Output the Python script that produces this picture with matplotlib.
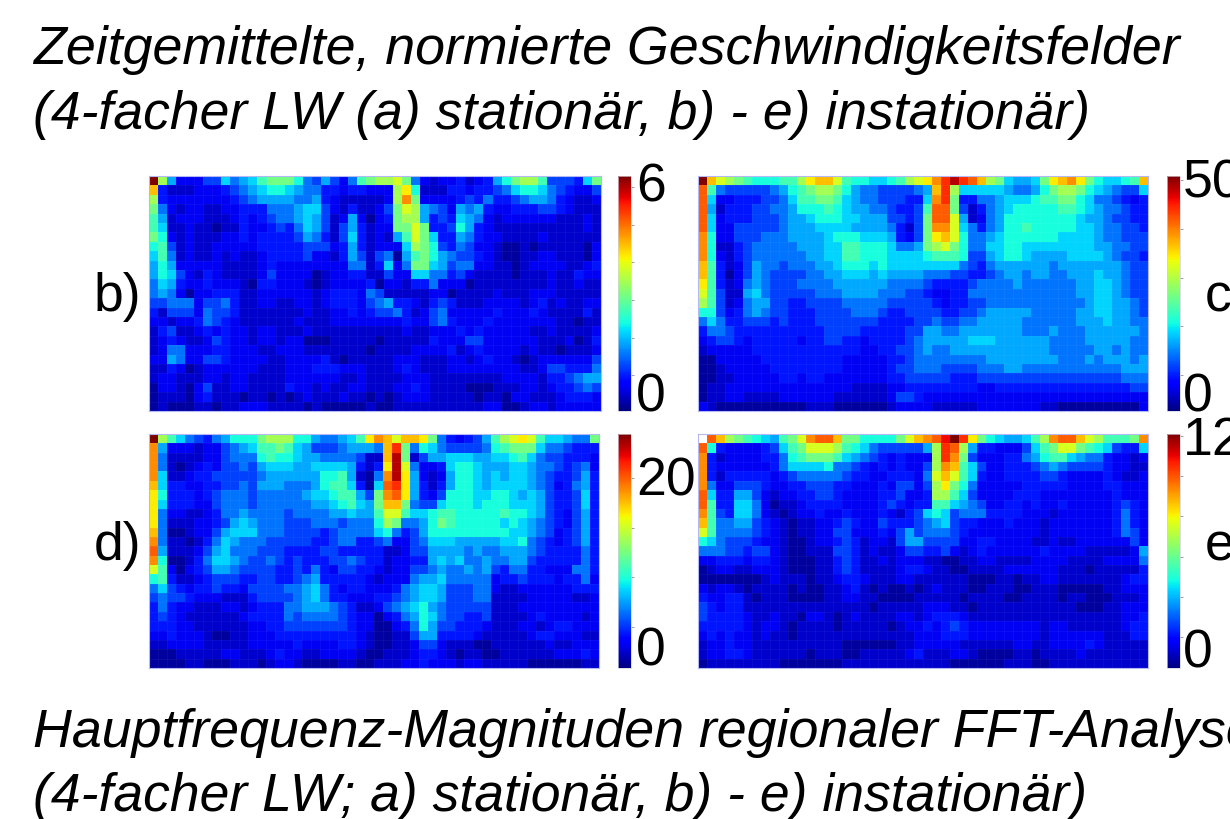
import numpy as np
import matplotlib
matplotlib.use("Agg")
import matplotlib.pyplot as plt

W, H = 1230, 819
plt.rcParams['font.family'] = ['Liberation Sans', 'DejaVu Sans']

# Each character is a colour step; '-' = empty cell
LEVELS = "0123456789abcdefghijk"
LEVEL_FRACTIONS = [.03, .07, .105, .145, .19, .24, .29, .335, .38, .43, .49,
                   .55, .61, .66, .71, .76, .81, .86, .90, .95, 1.0]

b_rows = [
"kb62224475 679aaa8546 4259abbca5 2122312368 abb944437a",
"e311122234 5678876553 3233222bd8 1113323345 7887543224",
"b322222223 4566665563 2111112bfa 2222343533 4566532112",
"a521221122 3335556774 2131124acb 6542656322 3334432111",
"9612221112 3234556764 1262023abb 6343765212 2222211121",
"9711211011 3223435764 1463122aac a334863211 1111111121",
"a821211122 3233334653 147312169c a733653221 1112111111",
"8941211222 2233333444 236312227b a843542210 0101111102",
"7951211212 1123333422 1364145069 a865443210 0112211102",
"6862222211 1123222222 225513725a a764552211 0122221123",
"6874213211 1124222201 2233114227 7553421111 0111211322",
"5763223222 1033222101 2222302213 3522201111 1111211211",
"5652022333 1122222212 3332541111 1220111121 1122211111",
"4455524453 1122112212 3332456332 1343111222 2123121122",
"3144425443 1111111211 2232344531 2452222232 2232111131",
"2212235432 1111112111 2222222232 2453222322 2222211011",
"1341123232 2122111211 1111111121 1222323222 2211211112",
"1232112432 2122122000 1111101111 1322244222 2221112013",
"1255222332 2211222111 1111011112 2223123222 2121101112",
"2265224432 2221122223 1011111222 1112212322 1012222224",
"1132012222 2211122233 3222111232 1112222222 2112443335",
"1221112212 2111122222 2112111122 2111111112 2221334566",
"0221024112 2111132212 1122111223 2111100011 1221233454",
"0111023111 0110101211 1211010122 2111110110 2211123332",
"0100011011 2221111010 0000100111 1111111220 0122122222",
]

c_rows = [
"kecba98889 9bdeec9887 789bcdfhjh geba7667ad efda87789e",
"g954444456 89abba8655 444456ehb7 777765568a bba8765447",
"g722333445 799aa97655 444337fha3 3556777899 aa87554323",
"g613334455 6888987665 543349gga4 1356788888 9987655433",
"g723334445 6678887766 64434aggc6 1256888888 8876654433",
"g722444445 6667777666 65314affc7 5356889888 8877655443",
"f822444555 6666788877 76324adec8 5567888888 7777655444",
"f811345555 5666779988 87556abca8 5577887777 7777665544",
"f821345555 5566779988 8777789998 4467887666 6777765443",
"e931246554 5556678887 8777777775 4356666665 6666666544",
"e930246544 4455667776 7666655544 3345665665 5666766544",
"d931256544 4555566666 6555543333 4555565555 5566776544",
"c941167544 4445556666 5554432233 5555555555 5566776544",
"b941256644 3344445555 5444443233 4455555555 5556776654",
"8842356544 3334444555 4334444334 4566666555 5566776654",
"5753344434 3334444444 3333445445 5666665555 5566676655",
"3554333333 3333444433 3334466556 6666665556 5556666665",
"2344323333 3233443323 3334566666 7776666665 5556666655",
"1222223333 3333333322 3344565566 6666666665 5555665655",
"0022222333 3333332222 2334555555 5566666666 5556566656",
"0012222233 3333332222 2344555444 4555665555 5555555666",
"0011222223 3233222222 2334444433 3444444444 4444444555",
"0112222222 2222222111 1223333333 3223333333 3333333344",
"0112211112 2222211111 1244322222 2222222222 2222222222",
"2100000000 0011100000 0122221111 1222222211 0000000002",
]

d_rows = [
"kb97543568 88abbb8865 5679dfecee da5323469b cdc977655a",
"f622212245 6799a97644 456665eha5 8754444589 aaa7554333",
"f511112245 5589887665 555411eja1 4667776677 8975443332",
"f510123244 5467776677 776313djc5 2237887666 7765543452",
"f711233444 4456666668 896105fjd6 2126887676 7765433463",
"e733223344 5466655568 997307ghd6 3136887677 7765423563",
"d833323455 5455555677 89964afgd6 3248887788 7676433473",
"d733322455 5455555566 78976aeea5 4478887888 7776433473",
"d522112355 6555545555 667669cc97 7899888889 8876432463",
"d511122346 7655544455 545558ba55 68a9888887 8765432463",
"e500122467 7755544443 4555578534 6888888888 7765423463",
"f511013576 5554444433 4553345224 5777666667 7854323463",
"g611124675 5544433334 4333331124 4666656556 6654333353",
"f800135776 5445434333 4454331223 3676755655 6643333353",
"c920234665 4444334353 2443321224 4565565643 5533222553",
"8931123444 3344334563 3333212225 6675555523 3433323352",
"5743233433 2444455675 3233222356 7764445521 1222222333",
"4544322211 1344445675 3322233456 7764445511 1122222112",
"3532211122 1233355666 5431124567 8654444411 1222222222",
"3432111111 2333354555 5432202356 8754433411 1123222212",
"3332211111 1223344444 4432200235 8644333211 1221233222",
"2232221001 1222333333 3332100114 6633332111 1123322211",
"1122221111 1222223222 2332100112 4421110011 1111211222",
"0001111122 1112322112 2221001112 3321011001 1111122232",
"0000110001 1101221000 0110011122 3222122111 1100000011",
]

e_rows = [
"-geba98769 acfggeaa88 88acefgikh da876679bf ggecb999af",
"g832222347 9acccb9875 444446bhgb 633222479a cca9874337",
"f312222335 89aaa97654 323222bhfa 4222335689 9765532212",
"f322222235 7777855432 323224bfe9 7422333456 5444432211",
"f313333323 4555554332 233325cec9 7322333344 3222232112",
"f522444322 3344433222 324424bda8 5222223333 3222233222",
"g733664212 2334432222 334223bb97 4222233322 2222223222",
"g933775201 1233332222 3432339976 5422332322 3222223432",
"f943775210 1223223222 3213478745 5533332221 2222223532",
"e955664321 0112234322 4333456743 3222322212 2222223532",
"c955554321 0112244222 3246455543 2222222212 2222223542",
"8754443221 0012234312 2146644442 2332222112 1122222242",
"5554434421 0011144312 1124433421 2322222232 2221111126",
"2233323321 0001134311 2122211001 1221111222 2111122225",
"0122112221 0001134311 1123321100 1111222222 1110111113",
"0000000121 1101123321 1122111111 0001101122 1111111233",
"2122101111 0100112310 1001012111 0011100111 0000011222",
"3223310111 0000112211 0000111110 1111001111 0110001112",
"4323311111 1111111110 1111122211 0111111111 1100011222",
"4333321121 1022101211 1122123332 1111111111 1111111223",
"3333321221 0111101111 1012232343 2222222212 2111111233",
"2323221211 0111111111 1111222333 2222222212 2222211133",
"1223221111 1111110000 0011222221 1111122112 2223211111",
"1223321111 1101110011 1112311122 1000011011 1121111111",
"0111111110 0000001111 1111111100 0000111001 1111111111",
]

titles = ["Zeitgemittelte, normierte Geschwindigkeitsfelder",
          "(4-facher LW (a) stationär, b) - e) instationär)",
          "Hauptfrequenz-Magnituden regionaler FFT-Analyse",
          "(4-facher LW; a) stationär, b) - e) instationär)"]

# per panel: colour limits and ticks of the colour bar
b_limits, b_ticks = (0.05, 6.29), [1, 2, 3, 4, 5, 6]
c_limits, c_ticks = (2.7, 50.8), [10, 20, 30, 40, 50]
d_limits, d_ticks = (0.9, 24.4), [5, 10, 15, 20]
e_limits, e_ticks = (0.46, 12.1), [2, 4, 6, 8, 10, 12]


def grid(rows, limits):
    arr = []
    for r in rows:
        s = r.replace(" ", "")
        arr.append([np.nan if ch == "-" else LEVEL_FRACTIONS[LEVELS.index(ch)] for ch in s])
    arr = np.array(arr, dtype=float)
    return limits[0] + arr * (limits[1] - limits[0])


def axes_px(x0, y0, x1, y1):
    return fig.add_axes([x0 / W, 1 - y1 / H, (x1 - x0) / W, (y1 - y0) / H])


def label(x, y, s, **kw):
    fig.text(x / W, 1 - y / H, s, va="baseline", color="black", **kw)


fig = plt.figure(figsize=(W / 100, H / 100), dpi=100, facecolor="white")

panels = [
    (b_rows, b_limits, b_ticks, (149, 176, 601, 411), (618, 176, 631, 411)),
    (c_rows, c_limits, c_ticks, (698, 176, 1148, 411), (1167, 176, 1180, 411)),
    (d_rows, d_limits, d_ticks, (149, 434, 599, 668), (618, 434, 631, 668)),
    (e_rows, e_limits, e_ticks, (698, 434, 1148, 668), (1167, 434, 1180, 668)),
]

for rows, limits, ticks, box, cbox in panels:
    ax = axes_px(*box)
    data = grid(rows, limits)
    im = ax.imshow(data, cmap="jet", vmin=limits[0], vmax=limits[1],
                   aspect="auto", interpolation="nearest")
    ax.set_xticks(np.arange(-0.5, data.shape[1], 1), minor=True)
    ax.set_yticks(np.arange(-0.5, data.shape[0], 1), minor=True)
    ax.grid(which="minor", color="white", alpha=0.05, linewidth=0.6)
    ax.tick_params(which="both", length=0)
    ax.set_xticks([])
    ax.set_yticks([])
    for sp in ax.spines.values():
        sp.set_color("#b4b8f5")
        sp.set_linewidth(0.8)
    cax = axes_px(*cbox)
    cb = fig.colorbar(im, cax=cax, ticks=ticks)
    cb.ax.tick_params(length=1.8, width=0.5, color="#777777", labelright=False)
    cb.outline.set_edgecolor("#d0d0e0")
    cb.outline.set_linewidth(0.5)

label(33, 64, titles[0], fontsize=38.7, style="italic")
label(33, 129, titles[1], fontsize=38.5, style="italic")
label(33, 747, titles[2], fontsize=38.7, style="italic")
label(33, 811, titles[3], fontsize=38.5, style="italic")
# tip of a cut-off line above the picture
label(676, -13, ")", fontsize=38.5, style="italic")

ns = 38.5
for x, y, s in [(636, 201.5, "6"), (636, 411, "0"), (1183, 197, "50"), (1183, 411, "0"),
                (636, 496, "20"), (636, 666, "0"), (1183, 455, "12"), (1183, 668, "0")]:
    label(x, y, s, fontsize=ns)
for x, y, s in [(94, 311, "b)"), (94, 560, "d)"), (1205, 311, "c)"), (1205, 560, "e)")]:
    label(x, y, s, fontsize=ns)

fig.savefig("out.png", dpi=100, facecolor="white")
